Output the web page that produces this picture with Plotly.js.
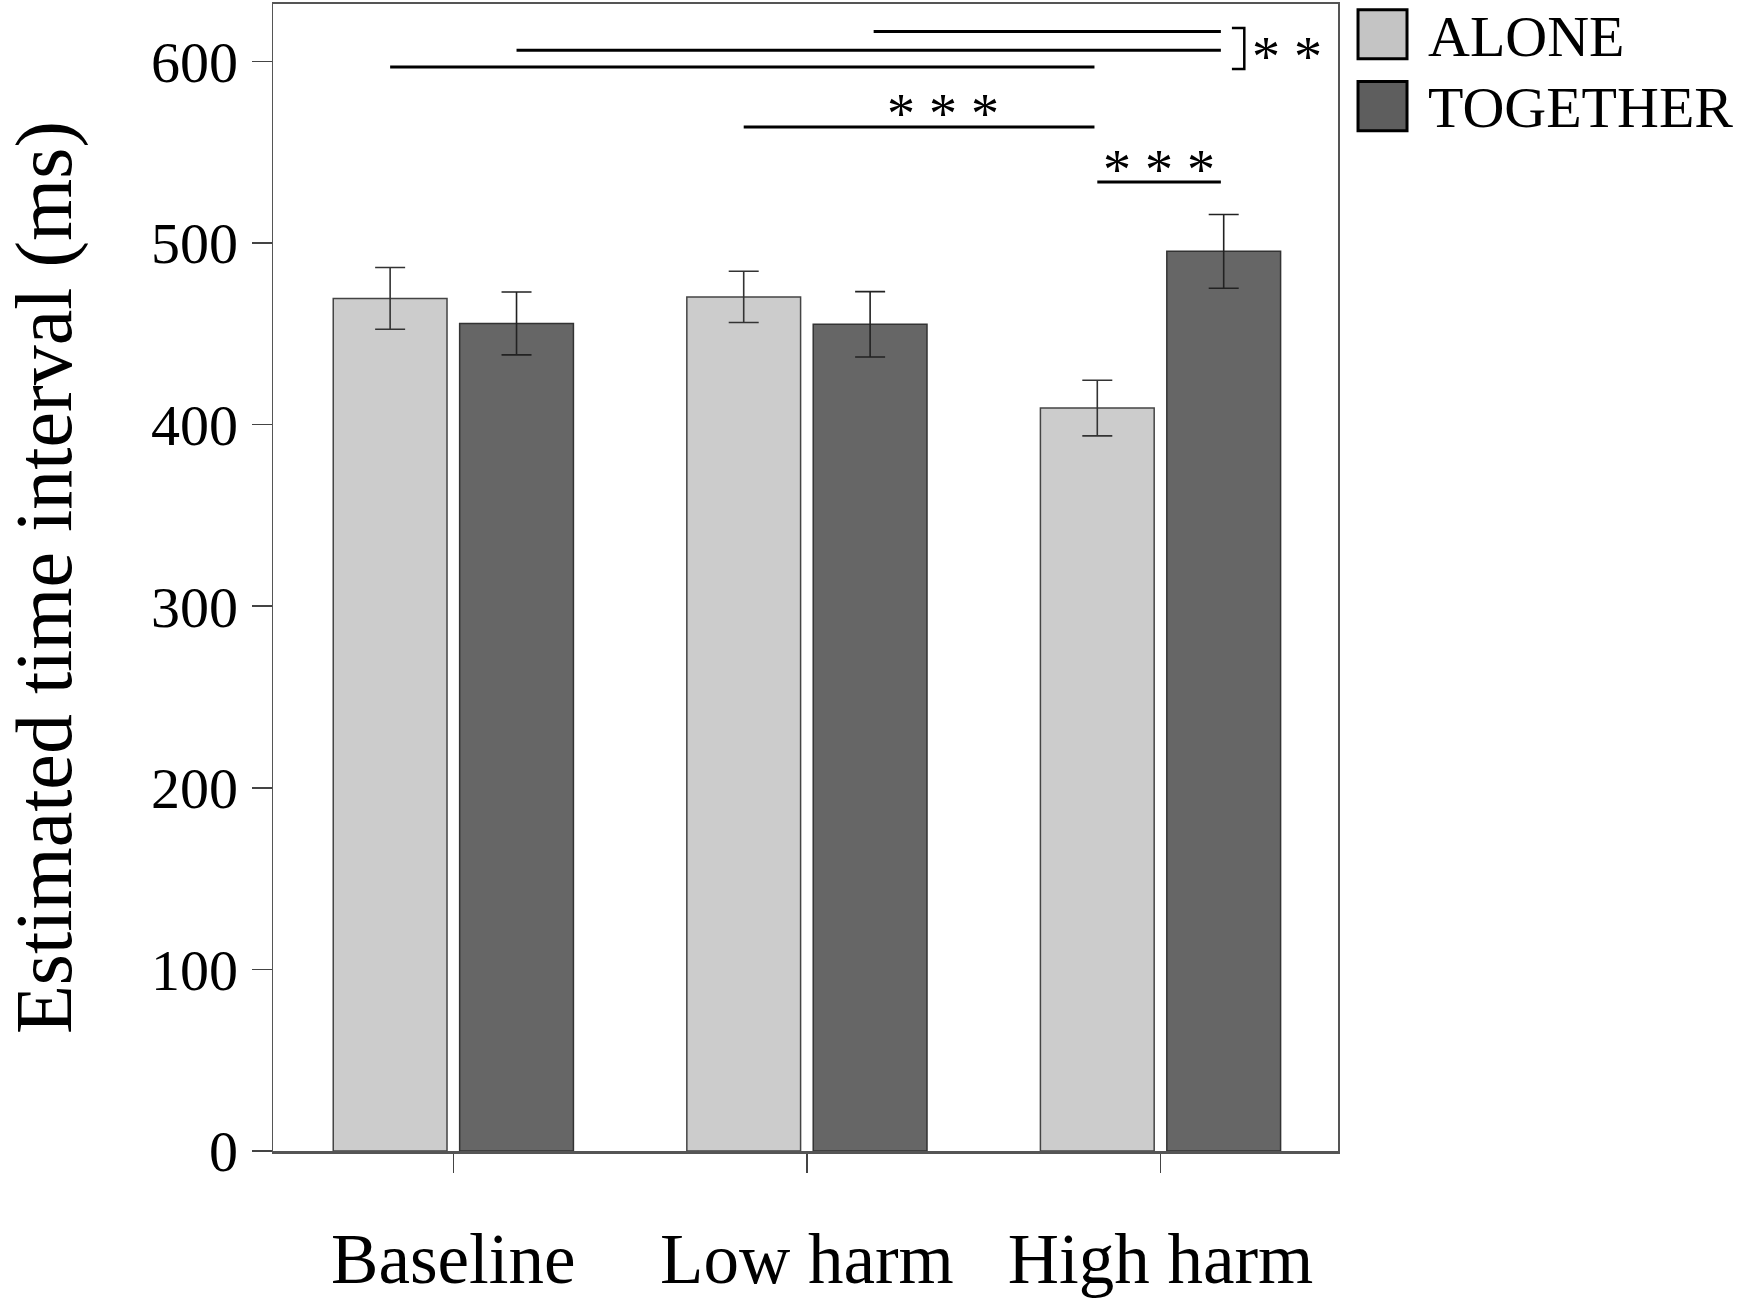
<!DOCTYPE html>
<html>
<head>
<meta charset="utf-8">
<script src="https://cdn.plot.ly/plotly-3.0.1.min.js"></script>
<style>html,body{margin:0;padding:0;background:#fff;}#chart{width:1737px;height:1302px;}</style>
</head>
<body>
<div id="chart"></div>
<script>
// ---- data ----
var categories = ["Baseline", "Low harm", "High harm"];
var seriesNames = ["ALONE", "TOGETHER"];
var aloneValues = [469.5, 470.3, 409.1];
var aloneErrors = [17.0, 14.1, 15.3];
var togetherValues = [455.7, 455.2, 495.4];
var togetherErrors = [17.3, 18.0, 20.3];
var yTickValues = [0, 100, 200, 300, 400, 500, 600];
var yTitle = "Estimated time interval (ms)";

// significance comparisons: [category index, series index] -> [category index, series index]
var sigFrom = [[1, 1], [0, 1], [0, 0], [1, 0], [2, 0]];
var sigTo   = [[2, 1], [2, 1], [2, 0], [2, 0], [2, 1]];
var sigLevel = [616.5, 606.1, 596.9, 563.9, 533.6];
var sigLabels = ["* *", "* * *", "* * *"];

// ---- layout helpers ----
var FONT = "Liberation Serif, Times New Roman, serif";
var bargap = 0.285, bargroupgap = 0.1;
var slot = (1 - bargap) / 2;
var off = slot / 2;
function barX(p) { return p[0] + (p[1] === 0 ? -off : off); }

var traces = [
  {
    type: "bar", name: seriesNames[0], x: [0, 1, 2], y: aloneValues,
    marker: { color: "#cccccc", line: { color: "#444444", width: 1.5 } },
    error_y: { type: "data", array: aloneErrors, visible: true, color: "#333333", thickness: 1.6, width: 15 },
    showlegend: false
  },
  {
    type: "bar", name: seriesNames[1], x: [0, 1, 2], y: togetherValues,
    marker: { color: "#666666", line: { color: "#333333", width: 1.5 } },
    error_y: { type: "data", array: togetherErrors, visible: true, color: "#222222", thickness: 1.6, width: 15 },
    showlegend: false
  }
];

var shapes = [];
for (var i = 0; i < sigFrom.length; i++) {
  shapes.push({
    type: "line", xref: "x", yref: "y",
    x0: barX(sigFrom[i]) + (i === 0 ? 0.01 : 0), x1: barX(sigTo[i]) - 0.008,
    y0: sigLevel[i], y1: sigLevel[i],
    line: { color: "#000", width: 3 }
  });
}
// bracket joining the top comparisons
shapes.push({
  type: "path", xref: "x", yref: "y",
  path: "M 2.202 618.4 L 2.237 618.4 L 2.237 595.8 L 2.202 595.8",
  line: { color: "#000", width: 2.5 }
});
// custom legend boxes
var legendColors = ["#c4c4c4", "#5e5e5e"];
var legendTop = [0.995, 0.9325], legendBottom = [0.9523, 0.8895];
for (var k = 0; k < seriesNames.length; k++) {
  shapes.push({
    type: "rect", xref: "paper", yref: "paper",
    x0: 1.0188, x1: 1.0648, y0: legendBottom[k], y1: legendTop[k],
    fillcolor: legendColors[k], line: { color: "#000", width: 3 }
  });
}

var annotations = [
  { xref: "x", yref: "y", x: 2.357, y: 606.3, text: sigLabels[0], showarrow: false, font: { family: FONT, size: 56, color: "#000" }, yshift: -7 },
  { xref: "x", yref: "y", x: 1.385, y: 575, text: sigLabels[1], showarrow: false, font: { family: FONT, size: 56, color: "#000" }, yshift: -7 },
  { xref: "x", yref: "y", x: 1.996, y: 543, text: sigLabels[2], showarrow: false, font: { family: FONT, size: 56, color: "#000" }, yshift: -5 }
];
var legendTextY = [0.9718, 0.9098];
for (var m = 0; m < seriesNames.length; m++) {
  annotations.push({
    xref: "paper", yref: "paper", x: 1.0825, y: legendTextY[m], xanchor: "left", yanchor: "middle",
    text: seriesNames[m], showarrow: false, font: { family: FONT, size: 58, color: "#000" }
  });
}

var layout = {
  width: 1737, height: 1302,
  margin: { l: 273, r: 399, t: 4, b: 151, pad: 0 },
  paper_bgcolor: "#fff", plot_bgcolor: "#fff",
  barmode: "group", bargap: bargap, bargroupgap: bargroupgap,
  font: { family: FONT, color: "#000" },
  xaxis: {
    range: [-0.51, 2.502], tickvals: [0, 1, 2], ticktext: categories,
    showgrid: false, zeroline: false,
    showline: true, linecolor: "#555555", linewidth: 2.5, mirror: true,
    ticks: "outside", ticklen: 19, tickwidth: 1.5, tickcolor: "#444",
    tickfont: { family: FONT, size: 71, color: "#000" },
    ticklabelstandoff: 25, fixedrange: true
  },
  yaxis: {
    range: [0, 631.6], tickvals: yTickValues,
    showgrid: false, zeroline: false,
    showline: true, linecolor: "#555555", linewidth: 1.5, mirror: true,
    ticks: "outside", ticklen: 20, tickwidth: 1.5, tickcolor: "#444",
    tickfont: { family: FONT, size: 58, color: "#000" },
    ticklabelstandoff: 2,
    title: { text: yTitle, font: { family: FONT, size: 80, color: "#000" }, standoff: 76 },
    fixedrange: true
  },
  shapes: shapes,
  annotations: annotations,
  showlegend: false
};

Plotly.newPlot("chart", traces, layout, { displayModeBar: false, staticPlot: true });
</script>
</body>
</html>
